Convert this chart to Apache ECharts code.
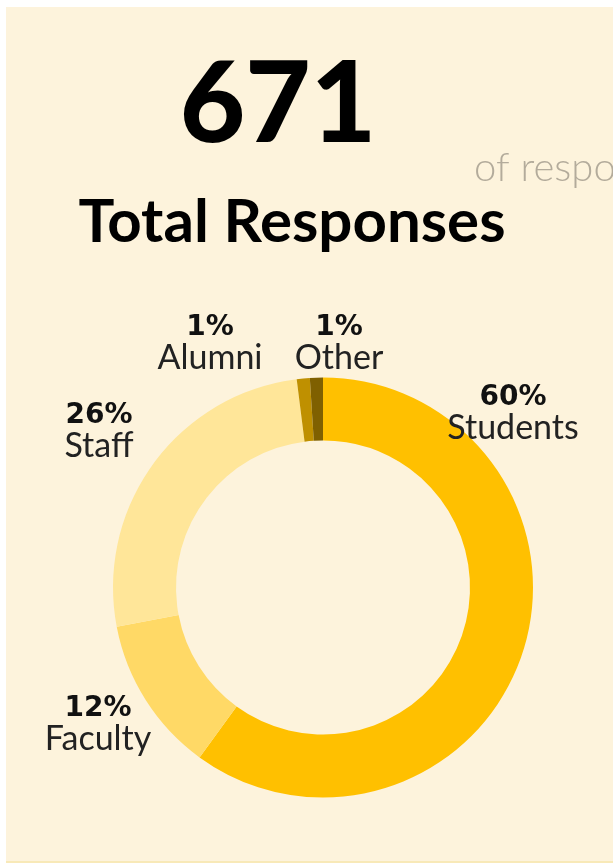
<!DOCTYPE html>
<html>
<head>
<meta charset="utf-8">
<script src="https://cdn.jsdelivr.net/npm/echarts@6/dist/echarts.min.js"></script>
<style>
  html, body { margin: 0; padding: 0; background: #ffffff; }
  #chart { width: 613px; height: 865px; }
</style>
</head>
<body>
<div id="chart"></div>
<script>
// Survey respondents by group
const groups = ['Students', 'Faculty', 'Staff', 'Alumni', 'Other'];
const shares = [60, 12, 26, 1, 1];
const groupColors = ['#FFC000', '#FFD966', '#FFE699', '#BF9000', '#7F6000'];

const totalResponses = '671';
const headline = 'Total Responses';
const sideNote = 'of respo';

// Where each group's label sits (centre x, middle y)
const labelSpots = [
  [513, 413],
  [98, 724],
  [99, 431],
  [210, 343],
  [339, 343]
];

const cream = '#FDF3DC';

const chart = echarts.init(document.getElementById('chart'), null, { renderer: 'canvas' });

const option = {
  backgroundColor: cream,
  animation: false,
  graphic: [
    // white page margin around the cream card
    { type: 'rect', shape: { x: 0, y: 0, width: 613, height: 7 }, style: { fill: '#ffffff' }, z: 100 },
    { type: 'rect', shape: { x: 0, y: 0, width: 6, height: 865 }, style: { fill: '#ffffff' }, z: 100 },
    { type: 'rect', shape: { x: 0, y: 863, width: 613, height: 2 }, style: { fill: '#ffffff' }, z: 100 },
    { type: 'rect', shape: { x: 6, y: 861, width: 607, height: 2 }, style: { fill: '#F8E9B8' }, z: 100 },
    {
      type: 'text',
      x: 278, y: 106,
      style: {
        text: totalResponses,
        font: '900 113px Lato, "DejaVu Sans", sans-serif',
        fill: '#000000',
        textAlign: 'center',
        textVerticalAlign: 'middle'
      }
    },
    {
      type: 'text',
      x: 292, y: 223,
      style: {
        text: headline,
        font: 'bold 60px Lato, "DejaVu Sans", sans-serif',
        fill: '#000000',
        textAlign: 'center',
        textVerticalAlign: 'middle'
      }
    },
    {
      type: 'text',
      x: 474, y: 168,
      style: {
        text: sideNote,
        font: '300 40px Lato, "DejaVu Sans", sans-serif',
        fill: '#B3AB9B',
        textAlign: 'left',
        textVerticalAlign: 'middle'
      }
    }
  ],
  series: [
    {
      type: 'pie',
      center: [323, 587.5],
      radius: [147, 210],
      startAngle: 90,
      clockwise: true,
      avoidLabelOverlap: false,
      silent: true,
      itemStyle: { borderWidth: 0 },
      data: groups.map((g, i) => ({
        name: g,
        value: shares[i],
        itemStyle: { color: groupColors[i] }
      })),
      labelLine: { show: false },
      label: {
        show: true,
        position: 'outside',
        formatter: p => '{p|' + p.value + '%}\n{n|' + p.name + '}',
        rich: {
          p: {
            fontFamily: '"DejaVu Sans", sans-serif',
            fontWeight: 'bold',
            fontSize: 28,
            lineHeight: 30,
            color: '#111111',
            align: 'center'
          },
          n: {
            fontFamily: 'Lato, "DejaVu Sans", sans-serif',
            fontWeight: 400,
            fontSize: 34,
            lineHeight: 31,
            color: '#222222',
            align: 'center'
          }
        }
      },
      labelLayout: params => ({
        x: labelSpots[params.dataIndex][0],
        y: labelSpots[params.dataIndex][1],
        align: 'center',
        verticalAlign: 'middle',
        hideOverlap: false,
        moveOverlap: null
      })
    }
  ]
};

chart.setOption(option);
</script>
</body>
</html>
